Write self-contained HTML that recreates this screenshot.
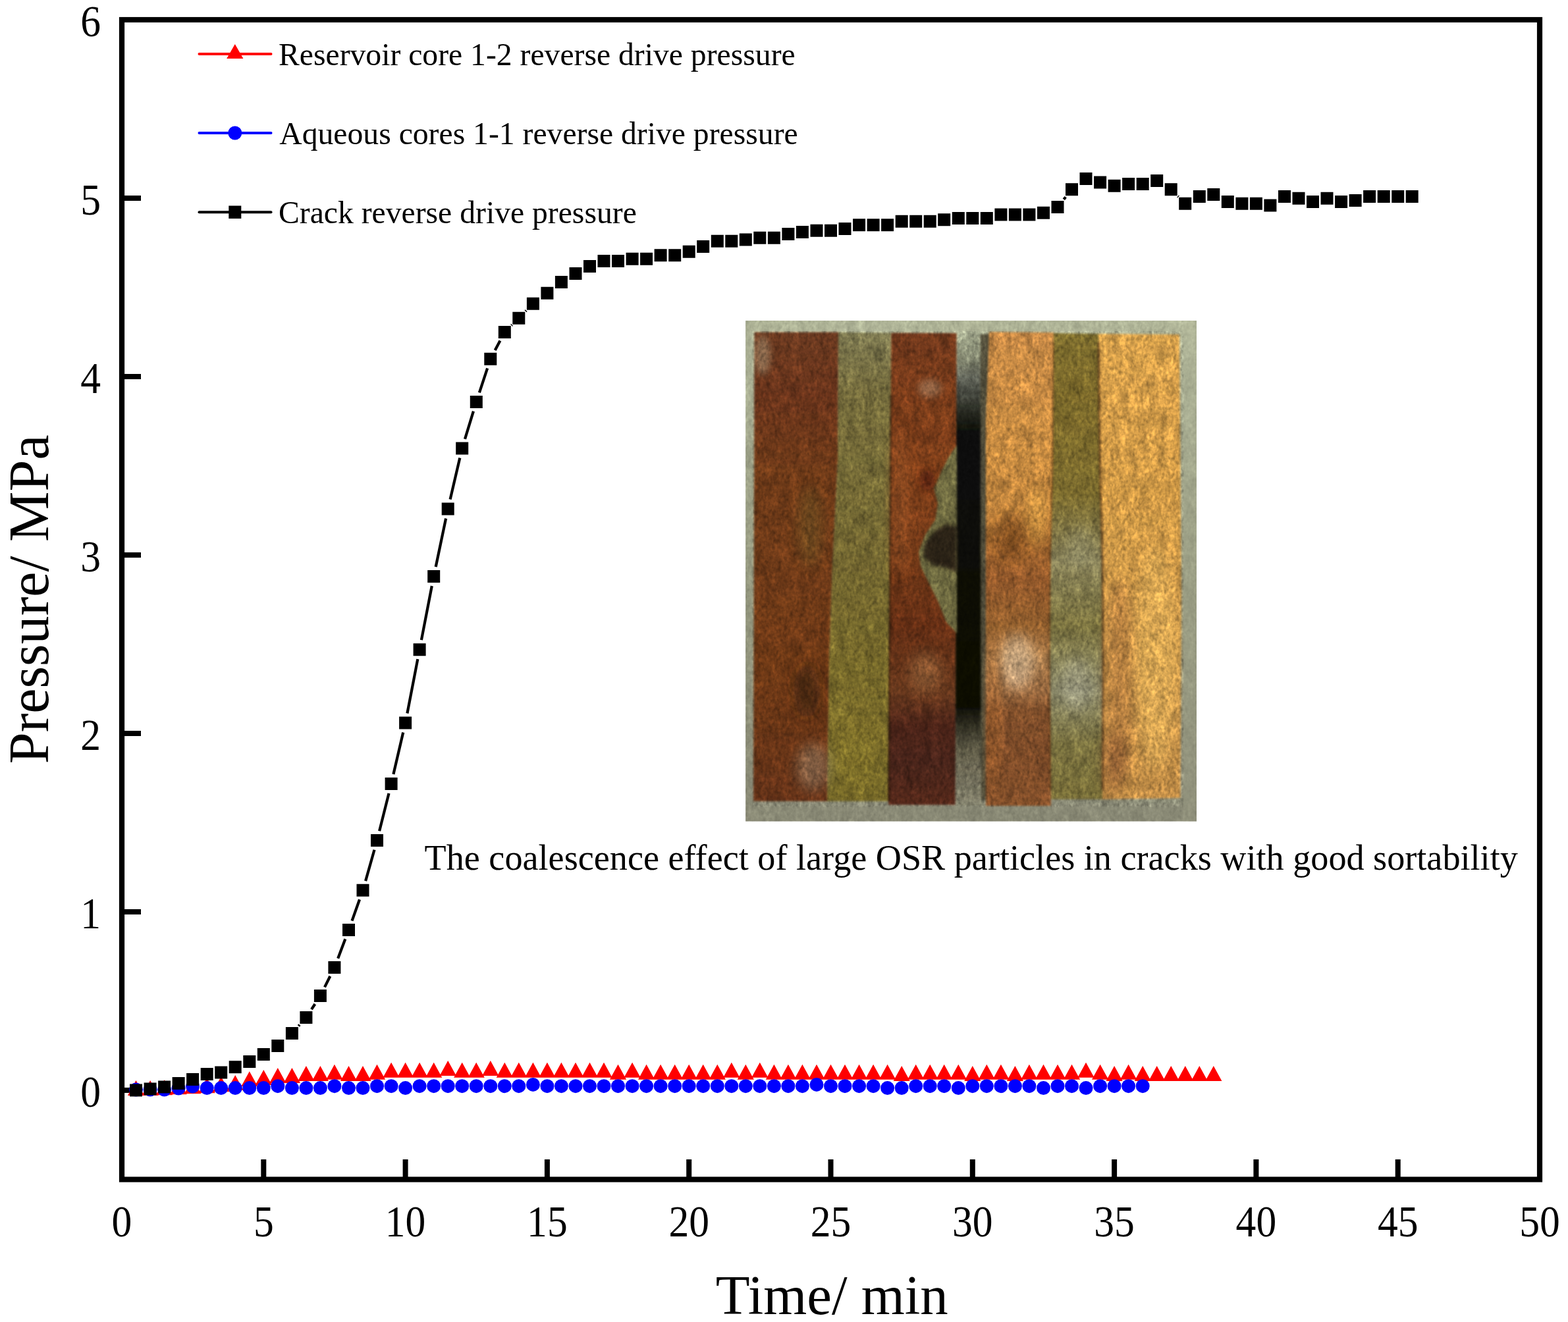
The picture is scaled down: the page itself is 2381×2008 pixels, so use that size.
<!DOCTYPE html>
<html lang="en"><head><meta charset="utf-8"><title>Pressure vs Time</title>
<style>html,body{margin:0;padding:0;background:#fff}body{width:2381px;height:2008px;overflow:hidden}svg{display:block}text{font-family:"Liberation Serif",serif;fill:#000}.tk{font-size:67px}.lg{font-size:47.67px}</style>
</head><body>
<svg width="2381" height="2008" viewBox="0 0 2381 2008" role="img" aria-label="Pressure versus time chart">
<rect width="2381" height="2008" fill="#fff"/>
<defs>
<clipPath id="pc"><rect x="1132.2" y="486.9" width="684.8" height="760.7"/></clipPath>
<filter id="tex" filterUnits="userSpaceOnUse" x="1102.2" y="456.9" width="744.8" height="820.7" color-interpolation-filters="sRGB">
<feGaussianBlur in="SourceGraphic" stdDeviation="1.6" result="b"/>
<feTurbulence type="fractalNoise" baseFrequency="0.07 0.04" numOctaves="3" seed="23" result="n"/>
<feColorMatrix in="n" type="matrix" values="0.7 0.7 0 0 -0.2  0.7 0.7 0 0 -0.2  0.7 0.7 0 0 -0.2  0 0 0 0 1" result="g"/>
<feComposite in="b" in2="g" operator="arithmetic" k1="0.5" k2="0.75" k3="0" k4="0" result="m"/>
<feTurbulence type="fractalNoise" baseFrequency="0.22 0.16" numOctaves="2" seed="4" result="n2"/>
<feColorMatrix in="n2" type="matrix" values="0.9 0.9 0 0 -0.4  0.9 0.9 0 0 -0.4  0.9 0.9 0 0 -0.4  0 0 0 0 1" result="g2"/>
<feComposite in="m" in2="g2" operator="arithmetic" k1="0.45" k2="0.775" k3="0" k4="0"/>
</filter>
<filter id="s9" x="-50%" y="-50%" width="200%" height="200%"><feGaussianBlur stdDeviation="9"/></filter>
<filter id="s5" x="-50%" y="-50%" width="200%" height="200%"><feGaussianBlur stdDeviation="5"/></filter>
<filter id="s3" x="-50%" y="-50%" width="200%" height="200%"><feGaussianBlur stdDeviation="2.5"/></filter>
<linearGradient id="gbg" gradientUnits="userSpaceOnUse" x1="0" y1="487" x2="0" y2="1248"><stop offset="0.000" stop-color="#b0b598"/><stop offset="0.148" stop-color="#a5aa8f"/><stop offset="0.543" stop-color="#95987f"/><stop offset="1.000" stop-color="#898975"/></linearGradient>
<linearGradient id="ggap" gradientUnits="userSpaceOnUse" x1="0" y1="505" x2="0" y2="1222"><stop offset="0.000" stop-color="#a4aa8e"/><stop offset="0.056" stop-color="#868a72"/><stop offset="0.098" stop-color="#62655a"/><stop offset="0.153" stop-color="#30322a"/><stop offset="0.211" stop-color="#0d0f07"/><stop offset="0.795" stop-color="#0e0e06"/><stop offset="0.844" stop-color="#3a382a"/><stop offset="0.886" stop-color="#605c48"/><stop offset="0.921" stop-color="#6e6a56"/><stop offset="1.000" stop-color="#7e7c68"/></linearGradient>
<linearGradient id="gbl" gradientUnits="userSpaceOnUse" x1="0" y1="505" x2="0" y2="1217"><stop offset="0.000" stop-color="#6b3a20"/><stop offset="0.133" stop-color="#6a341b"/><stop offset="0.302" stop-color="#6e3a18"/><stop offset="0.485" stop-color="#6e3a18"/><stop offset="0.695" stop-color="#703a16"/><stop offset="0.836" stop-color="#6a3616"/><stop offset="1.000" stop-color="#643218"/></linearGradient>
<linearGradient id="gol" gradientUnits="userSpaceOnUse" x1="0" y1="505" x2="0" y2="1217"><stop offset="0.000" stop-color="#7c7850"/><stop offset="0.133" stop-color="#756c3c"/><stop offset="0.302" stop-color="#746a36"/><stop offset="0.485" stop-color="#726630"/><stop offset="0.695" stop-color="#75682a"/><stop offset="0.836" stop-color="#7a6c2a"/><stop offset="1.000" stop-color="#756828"/></linearGradient>
<linearGradient id="gbr" gradientUnits="userSpaceOnUse" x1="0" y1="505" x2="0" y2="1222"><stop offset="0.000" stop-color="#70381c"/><stop offset="0.132" stop-color="#7a3c1a"/><stop offset="0.300" stop-color="#7d3e19"/><stop offset="0.481" stop-color="#743a18"/><stop offset="0.621" stop-color="#642e14"/><stop offset="0.760" stop-color="#6a3a1e"/><stop offset="0.830" stop-color="#4c2418"/><stop offset="0.914" stop-color="#48241a"/><stop offset="1.000" stop-color="#54281a"/></linearGradient>
<linearGradient id="gor" gradientUnits="userSpaceOnUse" x1="0" y1="505" x2="0" y2="1224"><stop offset="0.000" stop-color="#c88a46"/><stop offset="0.257" stop-color="#c88c41"/><stop offset="0.369" stop-color="#bd823c"/><stop offset="0.438" stop-color="#a0662e"/><stop offset="0.522" stop-color="#94592b"/><stop offset="0.619" stop-color="#94602e"/><stop offset="0.688" stop-color="#a87a4a"/><stop offset="0.758" stop-color="#9a6a40"/><stop offset="0.800" stop-color="#7f4e2a"/><stop offset="0.897" stop-color="#7d4b28"/><stop offset="1.000" stop-color="#84502a"/></linearGradient>
<linearGradient id="gor2" gradientUnits="userSpaceOnUse" x1="0" y1="507" x2="0" y2="1214"><stop offset="0.000" stop-color="#7e6e2e"/><stop offset="0.132" stop-color="#7b692a"/><stop offset="0.344" stop-color="#7c6c2e"/><stop offset="0.485" stop-color="#868058"/><stop offset="0.627" stop-color="#7c7440"/><stop offset="0.768" stop-color="#8a8868"/><stop offset="0.881" stop-color="#7a7240"/><stop offset="1.000" stop-color="#786e38"/></linearGradient>
<linearGradient id="ggd" gradientUnits="userSpaceOnUse" x1="0" y1="507" x2="0" y2="1214"><stop offset="0.000" stop-color="#d8a24c"/><stop offset="0.132" stop-color="#d59e4a"/><stop offset="0.344" stop-color="#cf9946"/><stop offset="0.556" stop-color="#cf9a4a"/><stop offset="0.697" stop-color="#d09c4c"/><stop offset="0.839" stop-color="#c8944a"/><stop offset="1.000" stop-color="#c08c46"/></linearGradient>
</defs>
<g id="photo" clip-path="url(#pc)">
<g filter="url(#tex)">
<rect x="1102.2" y="456.9" width="744.8" height="820.7" fill="url(#gbg)"/>
<rect x="1448" y="505" width="46" height="718" fill="url(#ggap)" filter="url(#s3)"/>
<path d="M1145.5 504.5 L1273 504.5 L1272 700 L1264 860 L1259 1000 L1256 1217 L1144 1217 Z" fill="url(#gbl)"/>
<path d="M1273 504.5 L1353.5 505.5 L1351 860 L1349 1217 L1256 1217 L1259 1000 L1264 860 L1272 700 Z" fill="url(#gol)"/>
<path d="M1353.5 505.5 L1452.5 506 L1450.5 1222.5 L1349 1222.5 L1351 860 Z" fill="url(#gbr)"/>
<path d="M1488.5 508 L1503 506 L1498 640 L1498 1215 L1489.5 1215 Z" fill="#4e4a38"/>
<path d="M1502 504 L1600 505 L1599 700 L1595 860 L1594 1000 L1596 1224 L1497 1224 L1497 640 Z" fill="url(#gor)"/>
<path d="M1600 506 L1668 507 L1670 700 L1674 860 L1675 1000 L1674 1214 L1596 1214 L1594 1000 L1595 860 L1599 700 Z" fill="url(#gor2)"/>
<path d="M1668 507 L1791 508 L1794 900 L1792.5 1212 L1674 1214 L1675 1000 L1674 860 L1670 700 Z" fill="url(#ggd)"/>
<path d="M1453 676 L1440 695 L1430 715 L1418 742 L1424 765 L1420 790 L1405 812 L1395 838 L1398 860 L1410 885 L1425 915 L1437 945 L1453 962 Z" fill="#6e6a40"/>
<path d="M1453 800 L1436 796 L1420 806 L1404 826 L1402 846 L1416 858 L1436 862 L1453 870 Z" fill="#2a2214" filter="url(#s3)"/>
<path d="M1353 600 L1351.5 860 L1349.5 1217" stroke="#2a1608" stroke-width="3.5" fill="none" opacity="0.6"/>
<path d="M1668 520 L1670 700 L1674 860 L1675 1000 L1674.5 1200" stroke="#4a2a10" stroke-width="4" fill="none" opacity="0.55"/>
<path d="M1599.5 520 L1598.5 700 L1594.5 860 L1593.5 1000 L1595 1200" stroke="#5a3410" stroke-width="3" fill="none" opacity="0.45"/>
<ellipse cx="1158" cy="540" rx="12" ry="30" fill="#b8b090" opacity="0.4" filter="url(#s5)"/>
<ellipse cx="1225" cy="1050" rx="20" ry="40" fill="#2e1a0c" opacity="0.55" filter="url(#s9)"/>
<ellipse cx="1230" cy="800" rx="18" ry="60" fill="#6a5a28" opacity="0.4" filter="url(#s9)"/>
<ellipse cx="1235" cy="1165" rx="26" ry="36" fill="#b0a890" opacity="0.35" filter="url(#s9)"/>
<ellipse cx="1366" cy="760" rx="12" ry="110" fill="#a05a2c" opacity="0.5" filter="url(#s9)"/>
<ellipse cx="1408" cy="730" rx="12" ry="16" fill="#4a1808" opacity="0.6" filter="url(#s5)"/>
<ellipse cx="1405" cy="1020" rx="24" ry="30" fill="#9a6a40" opacity="0.5" filter="url(#s9)"/>
<ellipse cx="1412" cy="590" rx="18" ry="14" fill="#b0a088" opacity="0.35" filter="url(#s5)"/>
<ellipse cx="1300" cy="1150" rx="30" ry="50" fill="#8a7a2a" opacity="0.4" filter="url(#s9)"/>
<ellipse cx="1545" cy="1005" rx="26" ry="42" fill="#ecdcc0" opacity="0.42" filter="url(#s9)"/>
<ellipse cx="1508" cy="1080" rx="8" ry="120" fill="#b87030" opacity="0.55" filter="url(#s9)"/>
<ellipse cx="1535" cy="815" rx="22" ry="34" fill="#6a3c18" opacity="0.55" filter="url(#s9)"/>
<ellipse cx="1575" cy="785" rx="14" ry="45" fill="#e0a848" opacity="0.5" filter="url(#s9)"/>
<ellipse cx="1700" cy="1030" rx="22" ry="150" fill="#9a6434" opacity="0.5" filter="url(#s9)"/>
<ellipse cx="1692" cy="1160" rx="18" ry="45" fill="#7a4a2a" opacity="0.5" filter="url(#s9)"/>
<ellipse cx="1755" cy="1000" rx="30" ry="170" fill="#e4b45c" opacity="0.55" filter="url(#s9)"/>
<ellipse cx="1635" cy="1040" rx="24" ry="40" fill="#b0b0a0" opacity="0.35" filter="url(#s9)"/>
<ellipse cx="1640" cy="830" rx="20" ry="30" fill="#a0a080" opacity="0.3" filter="url(#s9)"/>
</g>
<rect x="1797" y="480" width="24" height="775" fill="#c4c8aa" opacity="0.28"/>
<path fill-rule="evenodd" fill="url(#gbg)" opacity="0.6" d="M1132.2 486.9 H1817.0 V1247.6 H1132.2 Z M1142.5 503 H1797 V1225.5 H1142.5 Z"/>
</g>

<g stroke="#000" stroke-width="8" fill="none">
<path d="M400.3 1791.5 V1761 M615.6 1791.5 V1761 M830.9 1791.5 V1761 M1046.2 1791.5 V1761 M1261.5 1791.5 V1761 M1476.8 1791.5 V1761 M1692.1 1791.5 V1761 M1907.4 1791.5 V1761 M2122.7 1791.5 V1761 M185 1656 H214 M185 1385 H214 M185 1114 H214 M185 843 H214 M185 572 H214 M185 301 H214"/>
</g>
<g fill="#f00">
<path d="M206.5 1641 l12.6 23 h-25.2 z M228.1 1641 l12.6 23 h-25.2 z M249.6 1640.2 l12.6 23 h-25.2 z M271.1 1639.2 l12.6 23 h-25.2 z M292.6 1638.2 l12.6 23 h-25.2 z M314.2 1637.2 l12.6 23 h-25.2 z M335.7 1635.2 l12.6 23 h-25.2 z M357.2 1633 l12.6 23 h-25.2 z M378.8 1627.3 l12.6 23 h-25.2 z M400.3 1625 l12.6 23 h-25.2 z M421.8 1622.1 l12.6 23 h-25.2 z M443.4 1622.1 l12.6 23 h-25.2 z M464.9 1618.9 l12.6 23 h-25.2 z M486.4 1618.9 l12.6 23 h-25.2 z M507.9 1616.7 l12.6 23 h-25.2 z M529.5 1618.9 l12.6 23 h-25.2 z M551 1618.9 l12.6 23 h-25.2 z M572.5 1616.7 l12.6 23 h-25.2 z M594.1 1613.8 l12.6 23 h-25.2 z M615.6 1613.8 l12.6 23 h-25.2 z M637.1 1613.8 l12.6 23 h-25.2 z M658.7 1613.8 l12.6 23 h-25.2 z M680.2 1610.9 l12.6 23 h-25.2 z M701.7 1613.8 l12.6 23 h-25.2 z M723.2 1613.8 l12.6 23 h-25.2 z M744.8 1610.9 l12.6 23 h-25.2 z M766.3 1613.8 l12.6 23 h-25.2 z M787.8 1613.8 l12.6 23 h-25.2 z M809.4 1613.8 l12.6 23 h-25.2 z M830.9 1613.8 l12.6 23 h-25.2 z M852.4 1613.8 l12.6 23 h-25.2 z M874 1613.8 l12.6 23 h-25.2 z M895.5 1613.8 l12.6 23 h-25.2 z M917 1613.8 l12.6 23 h-25.2 z M938.5 1616.7 l12.6 23 h-25.2 z M960.1 1613.8 l12.6 23 h-25.2 z M981.6 1616.7 l12.6 23 h-25.2 z M1003.1 1616.7 l12.6 23 h-25.2 z M1024.7 1616.7 l12.6 23 h-25.2 z M1046.2 1616.7 l12.6 23 h-25.2 z M1067.7 1616.7 l12.6 23 h-25.2 z M1089.3 1616.7 l12.6 23 h-25.2 z M1110.8 1613.8 l12.6 23 h-25.2 z M1132.3 1616.7 l12.6 23 h-25.2 z M1153.8 1613.8 l12.6 23 h-25.2 z M1175.4 1616.7 l12.6 23 h-25.2 z M1196.9 1616.7 l12.6 23 h-25.2 z M1218.4 1616.7 l12.6 23 h-25.2 z M1240 1616.7 l12.6 23 h-25.2 z M1261.5 1616.7 l12.6 23 h-25.2 z M1283 1616.7 l12.6 23 h-25.2 z M1304.6 1616.7 l12.6 23 h-25.2 z M1326.1 1616.7 l12.6 23 h-25.2 z M1347.6 1616.7 l12.6 23 h-25.2 z M1369.2 1618.9 l12.6 23 h-25.2 z M1390.7 1616.7 l12.6 23 h-25.2 z M1412.2 1616.7 l12.6 23 h-25.2 z M1433.7 1616.7 l12.6 23 h-25.2 z M1455.3 1616.7 l12.6 23 h-25.2 z M1476.8 1618.9 l12.6 23 h-25.2 z M1498.3 1616.7 l12.6 23 h-25.2 z M1519.9 1616.7 l12.6 23 h-25.2 z M1541.4 1618.9 l12.6 23 h-25.2 z M1562.9 1616.7 l12.6 23 h-25.2 z M1584.5 1616.7 l12.6 23 h-25.2 z M1606 1616.7 l12.6 23 h-25.2 z M1627.5 1616.7 l12.6 23 h-25.2 z M1649 1613.8 l12.6 23 h-25.2 z M1670.6 1616.7 l12.6 23 h-25.2 z M1692.1 1618.9 l12.6 23 h-25.2 z M1713.6 1616.7 l12.6 23 h-25.2 z M1735.2 1618.9 l12.6 23 h-25.2 z M1756.7 1618.9 l12.6 23 h-25.2 z M1778.2 1618.9 l12.6 23 h-25.2 z M1799.8 1618.9 l12.6 23 h-25.2 z M1821.3 1618.9 l12.6 23 h-25.2 z M1842.8 1618.9 l12.6 23 h-25.2 z"/>
</g>
<g fill="#00f">
<circle cx="206.5" cy="1655.1" r="10.5"/>
<circle cx="228.1" cy="1655.1" r="10.5"/>
<circle cx="249.6" cy="1655.1" r="10.5"/>
<circle cx="271.1" cy="1653" r="10.5"/>
<circle cx="292.6" cy="1650" r="10.5"/>
<circle cx="314.2" cy="1652.6" r="10.5"/>
<circle cx="335.7" cy="1652.6" r="10.5"/>
<circle cx="357.2" cy="1652.6" r="10.5"/>
<circle cx="378.8" cy="1652.6" r="10.5"/>
<circle cx="400.3" cy="1652.6" r="10.5"/>
<circle cx="421.8" cy="1649.7" r="10.5"/>
<circle cx="443.4" cy="1652.6" r="10.5"/>
<circle cx="464.9" cy="1652.6" r="10.5"/>
<circle cx="486.4" cy="1652.6" r="10.5"/>
<circle cx="507.9" cy="1649.7" r="10.5"/>
<circle cx="529.5" cy="1652.6" r="10.5"/>
<circle cx="551" cy="1652.6" r="10.5"/>
<circle cx="572.5" cy="1649.7" r="10.5"/>
<circle cx="594.1" cy="1649.7" r="10.5"/>
<circle cx="615.6" cy="1652.6" r="10.5"/>
<circle cx="637.1" cy="1649.7" r="10.5"/>
<circle cx="658.7" cy="1649.7" r="10.5"/>
<circle cx="680.2" cy="1649.7" r="10.5"/>
<circle cx="701.7" cy="1649.7" r="10.5"/>
<circle cx="723.2" cy="1649.7" r="10.5"/>
<circle cx="744.8" cy="1649.7" r="10.5"/>
<circle cx="766.3" cy="1649.7" r="10.5"/>
<circle cx="787.8" cy="1649.7" r="10.5"/>
<circle cx="809.4" cy="1647.4" r="10.5"/>
<circle cx="830.9" cy="1649.7" r="10.5"/>
<circle cx="852.4" cy="1649.7" r="10.5"/>
<circle cx="874" cy="1649.7" r="10.5"/>
<circle cx="895.5" cy="1649.7" r="10.5"/>
<circle cx="917" cy="1649.7" r="10.5"/>
<circle cx="938.5" cy="1649.7" r="10.5"/>
<circle cx="960.1" cy="1649.7" r="10.5"/>
<circle cx="981.6" cy="1649.7" r="10.5"/>
<circle cx="1003.1" cy="1649.7" r="10.5"/>
<circle cx="1024.7" cy="1649.7" r="10.5"/>
<circle cx="1046.2" cy="1649.7" r="10.5"/>
<circle cx="1067.7" cy="1649.7" r="10.5"/>
<circle cx="1089.3" cy="1649.7" r="10.5"/>
<circle cx="1110.8" cy="1649.7" r="10.5"/>
<circle cx="1132.3" cy="1649.7" r="10.5"/>
<circle cx="1153.8" cy="1649.7" r="10.5"/>
<circle cx="1175.4" cy="1649.7" r="10.5"/>
<circle cx="1196.9" cy="1649.7" r="10.5"/>
<circle cx="1218.4" cy="1649.7" r="10.5"/>
<circle cx="1240" cy="1647.4" r="10.5"/>
<circle cx="1261.5" cy="1649.7" r="10.5"/>
<circle cx="1283" cy="1649.7" r="10.5"/>
<circle cx="1304.6" cy="1649.7" r="10.5"/>
<circle cx="1326.1" cy="1649.7" r="10.5"/>
<circle cx="1347.6" cy="1652.6" r="10.5"/>
<circle cx="1369.2" cy="1652.6" r="10.5"/>
<circle cx="1390.7" cy="1649.7" r="10.5"/>
<circle cx="1412.2" cy="1649.7" r="10.5"/>
<circle cx="1433.7" cy="1649.7" r="10.5"/>
<circle cx="1455.3" cy="1652.6" r="10.5"/>
<circle cx="1476.8" cy="1649.7" r="10.5"/>
<circle cx="1498.3" cy="1649.7" r="10.5"/>
<circle cx="1519.9" cy="1649.7" r="10.5"/>
<circle cx="1541.4" cy="1649.7" r="10.5"/>
<circle cx="1562.9" cy="1649.7" r="10.5"/>
<circle cx="1584.5" cy="1652.6" r="10.5"/>
<circle cx="1606" cy="1649.7" r="10.5"/>
<circle cx="1627.5" cy="1649.7" r="10.5"/>
<circle cx="1649" cy="1652.6" r="10.5"/>
<circle cx="1670.6" cy="1649.7" r="10.5"/>
<circle cx="1692.1" cy="1649.7" r="10.5"/>
<circle cx="1713.6" cy="1649.7" r="10.5"/>
<circle cx="1735.2" cy="1649.7" r="10.5"/>
</g>
<path d="M453.3 1558.4 L455 1556.6 M473 1533.2 L478.3 1525 M493 1499.4 L501.3 1482.8 M513.2 1455.8 L524.3 1426.3 M534.5 1398.6 L546 1366.2 M555.1 1338.1 L568.5 1290.8 M576.1 1262.2 L590.5 1204.9 M597.4 1176.1 L612.2 1112.4 M618.4 1083.5 L634.3 1001.2 M639.9 972.2 L655.8 890 M661.7 861 L677.1 787.5 M683.6 758.6 L698.3 695.4 M706 666.8 L718.9 624.7 M727.9 596.4 L740.1 559.3 M751.7 532.1 L759.4 517.5 M776.6 494.3 L777.6 493.4 M798.1 472.8 L799.1 471.7 M1615.3 302.9 L1618.2 299.3 M1788.5 298.1 L1789.5 299" stroke="#000" stroke-width="4.2" stroke-linecap="butt" fill="none"/>
<path d="M197 1646.5 h19 v19 h-19 z M218.6 1644.5 h19 v19 h-19 z M240.1 1641.4 h19 v19 h-19 z M261.6 1635.9 h19 v19 h-19 z M283.1 1629.9 h19 v19 h-19 z M304.7 1621.9 h19 v19 h-19 z M326.2 1619.6 h19 v19 h-19 z M347.7 1611.2 h19 v19 h-19 z M369.3 1602.9 h19 v19 h-19 z M390.8 1592 h19 v19 h-19 z M412.3 1579.1 h19 v19 h-19 z M433.9 1559.9 h19 v19 h-19 z M455.4 1536.1 h19 v19 h-19 z M476.9 1503.1 h19 v19 h-19 z M498.4 1460.1 h19 v19 h-19 z M520 1403 h19 v19 h-19 z M541.5 1342.8 h19 v19 h-19 z M563 1267.1 h19 v19 h-19 z M584.6 1181 h19 v19 h-19 z M606.1 1088.5 h19 v19 h-19 z M627.6 977.2 h19 v19 h-19 z M649.2 866 h19 v19 h-19 z M670.7 763.5 h19 v19 h-19 z M692.2 671.5 h19 v19 h-19 z M713.8 601 h19 v19 h-19 z M735.3 535.7 h19 v19 h-19 z M756.8 494.9 h19 v19 h-19 z M778.3 473.8 h19 v19 h-19 z M799.9 451.7 h19 v19 h-19 z M821.4 435.7 h19 v19 h-19 z M842.9 419.1 h19 v19 h-19 z M864.5 406.1 h19 v19 h-19 z M886 394.9 h19 v19 h-19 z M907.5 387.1 h19 v19 h-19 z M929 387.1 h19 v19 h-19 z M950.6 383.7 h19 v19 h-19 z M972.1 383.7 h19 v19 h-19 z M993.6 378.3 h19 v19 h-19 z M1015.2 378.3 h19 v19 h-19 z M1036.7 372.8 h19 v19 h-19 z M1058.2 365 h19 v19 h-19 z M1079.8 356.8 h19 v19 h-19 z M1101.3 356.8 h19 v19 h-19 z M1122.8 354.5 h19 v19 h-19 z M1144.3 351.7 h19 v19 h-19 z M1165.9 351.7 h19 v19 h-19 z M1187.4 345.9 h19 v19 h-19 z M1208.9 343 h19 v19 h-19 z M1230.5 340.8 h19 v19 h-19 z M1252 340.8 h19 v19 h-19 z M1273.5 337.9 h19 v19 h-19 z M1295.1 332.2 h19 v19 h-19 z M1316.6 332.2 h19 v19 h-19 z M1338.1 332.2 h19 v19 h-19 z M1359.7 326.7 h19 v19 h-19 z M1381.2 326.7 h19 v19 h-19 z M1402.7 326.7 h19 v19 h-19 z M1424.2 324.2 h19 v19 h-19 z M1445.8 321.9 h19 v19 h-19 z M1467.3 321.9 h19 v19 h-19 z M1488.8 321.9 h19 v19 h-19 z M1510.4 316.4 h19 v19 h-19 z M1531.9 316.4 h19 v19 h-19 z M1553.4 316.4 h19 v19 h-19 z M1575 313.8 h19 v19 h-19 z M1596.5 304.9 h19 v19 h-19 z M1618 278.3 h19 v19 h-19 z M1639.5 261.9 h19 v19 h-19 z M1661.1 267.4 h19 v19 h-19 z M1682.6 272.8 h19 v19 h-19 z M1704.1 269.9 h19 v19 h-19 z M1725.7 269.9 h19 v19 h-19 z M1747.2 265.1 h19 v19 h-19 z M1768.7 278.3 h19 v19 h-19 z M1790.2 299.8 h19 v19 h-19 z M1811.8 288.9 h19 v19 h-19 z M1833.3 286 h19 v19 h-19 z M1854.8 296.9 h19 v19 h-19 z M1876.4 299.8 h19 v19 h-19 z M1897.9 299.8 h19 v19 h-19 z M1919.4 302.6 h19 v19 h-19 z M1941 288.9 h19 v19 h-19 z M1962.5 291.7 h19 v19 h-19 z M1984 296.9 h19 v19 h-19 z M2005.5 291.7 h19 v19 h-19 z M2027.1 296.9 h19 v19 h-19 z M2048.6 294.9 h19 v19 h-19 z M2070.1 288.9 h19 v19 h-19 z M2091.7 288.9 h19 v19 h-19 z M2113.2 288.9 h19 v19 h-19 z M2134.7 288.9 h19 v19 h-19 z" fill="#000"/>
<rect x="185" y="30" width="2153" height="1761.5" fill="none" stroke="#000" stroke-width="8.2"/>
<path d="M302.5 82 H411.5" stroke="#f00" stroke-width="4" stroke-linecap="round"/>
<path d="M302.5 202 H411.5" stroke="#00f" stroke-width="4" stroke-linecap="round"/>
<path d="M302.5 322.2 H411.5" stroke="#000" stroke-width="4" stroke-linecap="round"/>
<path d="M356.8 67.1 l12.6 21.8 h-25.2 z" fill="#f00"/>
<circle cx="356.8" cy="202" r="10.5" fill="#00f"/>
<rect x="347.3" y="312.5" width="19" height="19.5" fill="#000"/>
<text class="lg" x="423" y="98.5">Reservoir core 1-2 reverse drive pressure</text>
<text class="lg" x="424.3" y="218.8">Aqueous cores 1-1 reverse drive pressure</text>
<text class="lg" x="423" y="338.5">Crack reverse drive pressure</text>
<text x="644.6" y="1320.5" font-size="54.18">The coalescence effect of large OSR particles in cracks with good sortability</text>
<g class="tk" text-anchor="middle">
<text x="185" y="1877.6" textLength="30.8" lengthAdjust="spacingAndGlyphs">0</text>
<text x="400.3" y="1877.6" textLength="30.8" lengthAdjust="spacingAndGlyphs">5</text>
<text x="615.6" y="1877.6" textLength="61.6" lengthAdjust="spacingAndGlyphs">10</text>
<text x="830.9" y="1877.6" textLength="61.6" lengthAdjust="spacingAndGlyphs">15</text>
<text x="1046.2" y="1877.6" textLength="61.6" lengthAdjust="spacingAndGlyphs">20</text>
<text x="1261.5" y="1877.6" textLength="61.6" lengthAdjust="spacingAndGlyphs">25</text>
<text x="1476.8" y="1877.6" textLength="61.6" lengthAdjust="spacingAndGlyphs">30</text>
<text x="1692.1" y="1877.6" textLength="61.6" lengthAdjust="spacingAndGlyphs">35</text>
<text x="1907.4" y="1877.6" textLength="61.6" lengthAdjust="spacingAndGlyphs">40</text>
<text x="2122.7" y="1877.6" textLength="61.6" lengthAdjust="spacingAndGlyphs">45</text>
<text x="2338" y="1877.6" textLength="61.6" lengthAdjust="spacingAndGlyphs">50</text>
</g>
<g class="tk" text-anchor="end">
<text x="153" y="1680.8" textLength="30.8" lengthAdjust="spacingAndGlyphs">0</text>
<text x="153" y="1409.8" textLength="30.8" lengthAdjust="spacingAndGlyphs">1</text>
<text x="153" y="1138.8" textLength="30.8" lengthAdjust="spacingAndGlyphs">2</text>
<text x="153" y="867.8" textLength="30.8" lengthAdjust="spacingAndGlyphs">3</text>
<text x="153" y="596.8" textLength="30.8" lengthAdjust="spacingAndGlyphs">4</text>
<text x="153" y="325.8" textLength="30.8" lengthAdjust="spacingAndGlyphs">5</text>
<text x="153" y="54.8" textLength="30.8" lengthAdjust="spacingAndGlyphs">6</text>
</g>
<text x="1263.3" y="1995.6" font-size="84.9" text-anchor="middle">Time/ min</text>
<text transform="translate(73 910.3) rotate(-90)" font-size="86.1" text-anchor="middle">Pressure/ MPa</text>
</svg>
</body></html>
